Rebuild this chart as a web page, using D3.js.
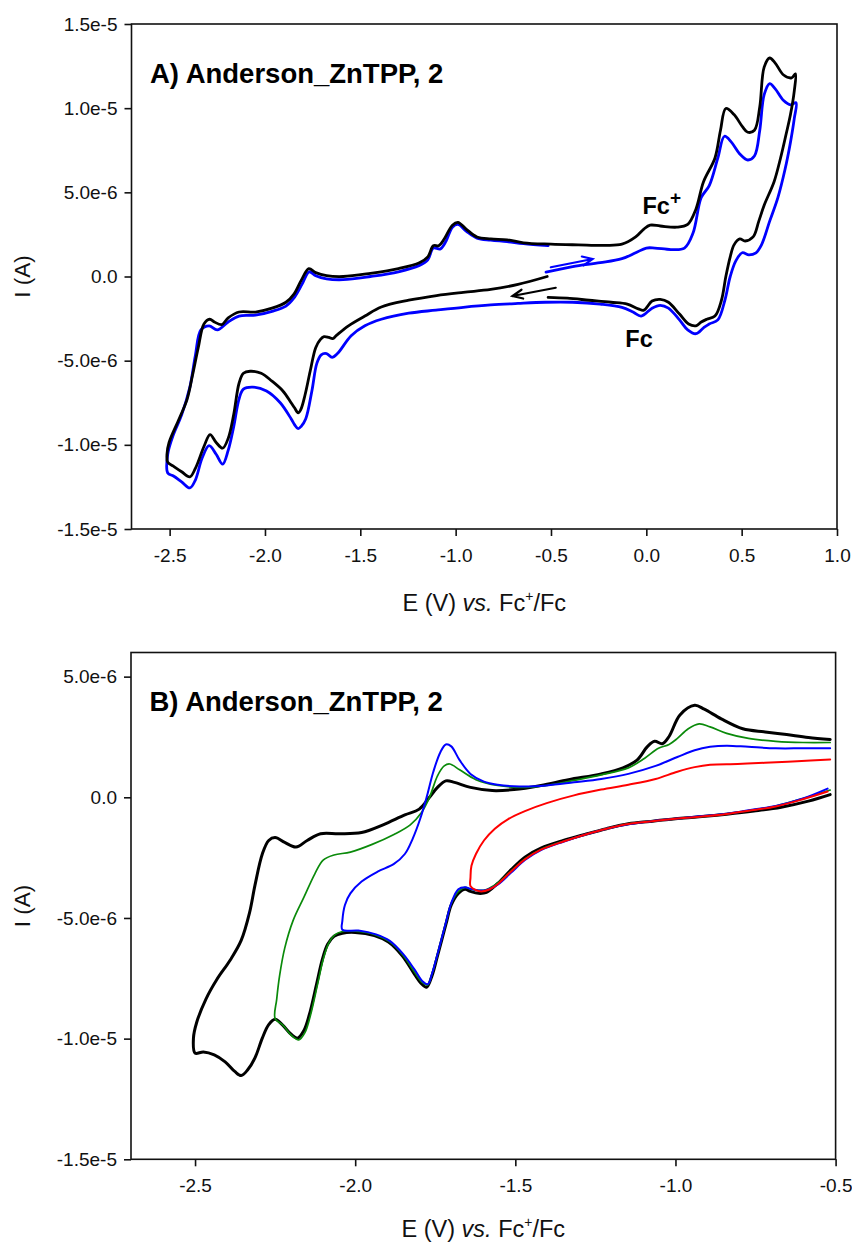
<!DOCTYPE html>
<html><head><meta charset="utf-8">
<script src="https://cdn.jsdelivr.net/npm/d3@7/dist/d3.min.js"></script>
<style>
body{margin:0;background:#fff;}
svg{display:block;font-family:"Liberation Sans",Arial,sans-serif;}
</style></head>
<body>
<svg id="chart" width="852" height="1244"></svg>
<script>
// ---------- DATA (E in V vs Fc+/Fc, I in microamps) ----------
const uA = 1e-6;

// Panel A ticks
const aTicksX = [-2.5,-2.0,-1.5,-1.0,-0.5,0.0,0.5,1.0];
const aTickLabelsX = ["-2.5","-2.0","-1.5","-1.0","-0.5","0.0","0.5","1.0"];
const aTicksY = [1.5e-5,1.0e-5,5e-6,0,-5e-6,-1e-5,-1.5e-5];
const aTickLabelsY = ["1.5e-5","1.0e-5","5.0e-6","0.0","-5.0e-6","-1.0e-5","-1.5e-5"];

// Panel A, black trace
const aBlack = [
[-0.52,0.0],[-0.673,-0.47],[-0.816,-0.77],[-0.96,-0.94],[-1.10,-1.13],[-1.246,-1.41],[-1.39,-1.81],
[-1.476,-2.35],[-1.562,-2.93],[-1.625,-3.5],[-1.645,-3.69],[-1.665,-3.62],[-1.69,-3.57],[-1.71,-3.75],[-1.734,-4.23],
[-1.763,-5.63],[-1.79,-7.04],[-1.812,-7.9],[-1.826,-8.1],[-1.845,-7.8],[-1.863,-7.5],[-1.906,-6.8],[-1.963,-6.22],
[-2.02,-5.75],[-2.078,-5.63],[-2.113,-5.75],[-2.136,-6.34],[-2.164,-8.2],[-2.193,-9.62],[-2.222,-10.2],
[-2.256,-9.86],[-2.288,-9.39],[-2.32,-10.1],[-2.365,-11.4],[-2.394,-11.9],[-2.437,-11.6],[-2.48,-11.27],
[-2.51,-11.03],[-2.514,-10.56],[-2.503,-9.86],[-2.45,-8.45],[-2.408,-7.28],[-2.38,-5.87],[-2.35,-4.23],
[-2.32,-2.82],[-2.29,-2.54],[-2.265,-2.70],[-2.227,-2.86],[-2.193,-2.46],[-2.136,-2.11],[-2.05,-2.11],
[-1.963,-1.88],[-1.89,-1.53],[-1.849,-1.06],[-1.81,-0.23],[-1.77,0.47],[-1.734,0.23],[-1.677,0.05],
[-1.59,0.0],[-1.447,0.19],[-1.30,0.47],[-1.19,0.82],[-1.146,1.17],[-1.117,1.83],[-1.089,1.83],[-1.06,2.23],
[-1.017,3.05],[-0.988,3.22],[-0.945,2.82],[-0.888,2.35],[-0.816,2.23],[-0.73,2.18],[-0.644,2.0],[-0.5,1.92],
[-0.357,1.88],[-0.214,1.85],[-0.128,1.92],[-0.056,2.35],[-0.013,2.82],[0.02,3.05],[0.073,3.0],[0.16,2.93],
[0.217,3.1],[0.26,4.0],[0.30,5.63],[0.36,7.04],[0.389,8.69],[0.417,9.98],[0.46,9.62],[0.503,8.92],
[0.532,8.57],[0.567,8.69],[0.595,10.09],[0.618,12.44],[0.647,12.98],[0.676,12.68],[0.72,11.97],[0.762,11.8],
[0.782,12.04],[0.776,11.03],[0.756,9.62],[0.733,8.45],[0.704,7.04],[0.67,5.63],[0.618,4.23],[0.59,3.29],
[0.56,2.35],[0.518,2.11],[0.49,2.23],[0.46,1.88],[0.44,1.17],[0.417,0.0],[0.394,-1.41],[0.36,-2.35],
[0.317,-2.54],[0.288,-2.70],[0.26,-2.93],[0.222,-2.82],[0.174,-2.23],[0.116,-1.53],[0.073,-1.36],
[0.03,-1.46],[-0.013,-2.0],[-0.042,-1.92],[-0.1,-1.64],[-0.185,-1.53],[-0.3,-1.41],[-0.415,-1.29],[-0.515,-1.24]
];

// Panel A, blue trace
const aBlue = [
[-0.526,0.26],[-0.386,0.59],[-0.242,0.82],[-0.128,1.06],[-0.056,1.41],[0.0,1.69],[0.045,1.69],[0.13,1.6],
[0.2,1.69],[0.245,2.58],[0.288,4.69],[0.33,5.4],[0.375,7.04],[0.41,8.33],[0.446,7.98],[0.49,7.28],
[0.532,6.92],[0.567,7.16],[0.595,8.69],[0.618,10.8],[0.647,11.46],[0.676,11.15],[0.72,10.45],[0.756,10.2],
[0.785,10.33],[0.776,9.39],[0.756,7.98],[0.727,6.34],[0.69,4.69],[0.647,3.29],[0.604,1.88],[0.575,1.41],
[0.538,1.29],[0.503,1.41],[0.47,0.94],[0.44,0.0],[0.412,-1.41],[0.375,-2.58],[0.33,-2.82],[0.30,-3.05],
[0.26,-3.40],[0.217,-3.17],[0.174,-2.58],[0.116,-1.88],[0.073,-1.71],[0.03,-1.88],[-0.027,-2.35],
[-0.07,-2.11],[-0.128,-1.83],[-0.242,-1.64],[-0.386,-1.53],[-0.53,-1.53],[-0.673,-1.6],[-0.816,-1.69],
[-0.96,-1.83],[-1.103,-2.0],[-1.246,-2.18],[-1.39,-2.54],[-1.476,-2.93],[-1.548,-3.52],[-1.62,-4.58],
[-1.648,-4.81],[-1.677,-4.58],[-1.705,-4.65],[-1.728,-5.16],[-1.754,-6.8],[-1.786,-8.45],[-1.81,-8.9],[-1.826,-9.04],
[-1.845,-8.8],[-1.863,-8.45],[-1.92,-7.5],[-1.992,-6.8],[-2.064,-6.57],[-2.113,-6.69],[-2.136,-7.28],[-2.164,-8.92],
[-2.193,-10.33],[-2.222,-11.15],[-2.256,-10.56],[-2.293,-10.05],[-2.33,-10.8],[-2.365,-12.09],[-2.394,-12.56],
[-2.437,-12.2],[-2.48,-11.85],[-2.51,-11.67],[-2.51,-10.56],[-2.48,-9.39],[-2.437,-8.22],[-2.394,-6.57],
[-2.365,-4.69],[-2.336,-3.17],[-2.293,-2.93],[-2.25,-3.17],[-2.193,-2.70],[-2.136,-2.35],[-2.05,-2.30],
[-1.963,-2.07],[-1.89,-1.76],[-1.849,-1.29],[-1.806,-0.47],[-1.768,0.28],[-1.734,0.05],[-1.677,-0.14],
[-1.59,-0.19],[-1.447,0.0],[-1.30,0.28],[-1.19,0.66],[-1.146,0.99],[-1.117,1.69],[-1.08,1.64],[-1.05,2.11],
[-1.017,2.93],[-0.988,3.10],[-0.945,2.7],[-0.888,2.28],[-0.816,2.16],[-0.73,2.07],[-0.644,1.95],[-0.515,1.83]
];

// Panel A scan-direction arrows [from, to]
const aArrowBlue = [[-0.501,0.55],[-0.282,1.04]];
const aArrowBlack = [[-0.475,-0.67],[-0.702,-1.16]];

// Panel B ticks
const bTicksX = [-2.5,-2.0,-1.5,-1.0,-0.5];
const bTickLabelsX = ["-2.5","-2.0","-1.5","-1.0","-0.5"];
const bTicksY = [5e-6,0,-5e-6,-1e-5,-1.5e-5];
const bTickLabelsY = ["5.0e-6","0.0","-5.0e-6","-1.0e-5","-1.5e-5"];

// Panel B, black (switch at -2.50 V)
const bBlack = [
[-0.517,0.11],[-0.585,-0.16],[-0.67,-0.41],[-0.755,-0.57],[-0.84,-0.70],[-0.926,-0.81],[-1.0,-0.89],
[-1.08,-1.0],[-1.147,-1.10],[-1.215,-1.30],[-1.283,-1.54],[-1.35,-1.79],[-1.42,-2.11],[-1.47,-2.48],
[-1.513,-3.0],[-1.555,-3.57],[-1.59,-3.94],[-1.615,-3.98],[-1.64,-3.9],[-1.657,-3.81],[-1.678,-3.98],
[-1.7,-4.46],[-1.717,-5.28],[-1.743,-6.57],[-1.76,-7.39],[-1.777,-7.87],[-1.794,-7.71],[-1.82,-7.22],
[-1.853,-6.57],[-1.896,-6.0],[-1.94,-5.73],[-2.0,-5.6],[-2.04,-5.63],[-2.066,-5.76],[-2.086,-6.09],
[-2.103,-6.74],[-2.12,-7.71],[-2.143,-9.0],[-2.16,-9.66],[-2.18,-9.98],[-2.2,-9.82],[-2.228,-9.42],
[-2.25,-9.2],[-2.27,-9.42],[-2.29,-9.98],[-2.313,-10.8],[-2.335,-11.28],[-2.356,-11.53],[-2.376,-11.36],
[-2.406,-10.96],[-2.44,-10.67],[-2.474,-10.55],[-2.5,-10.6],[-2.505,-9.98],[-2.495,-9.33],[-2.466,-8.36],
[-2.432,-7.55],[-2.39,-6.74],[-2.356,-5.93],[-2.33,-4.79],[-2.313,-3.65],[-2.29,-2.35],[-2.27,-1.79],
[-2.25,-1.67],[-2.22,-1.87],[-2.185,-2.06],[-2.15,-1.79],[-2.108,-1.51],[-2.05,-1.51],[-1.98,-1.46],
[-1.913,-1.14],[-1.845,-0.73],[-1.80,-0.49],[-1.768,0.0],[-1.743,0.41],[-1.717,0.68],[-1.69,0.62],
[-1.64,0.41],[-1.572,0.28],[-1.504,0.32],[-1.42,0.49],[-1.334,0.73],[-1.232,0.97],[-1.164,1.22],
[-1.12,1.54],[-1.087,2.11],[-1.065,2.32],[-1.041,2.22],[-1.02,2.52],[-0.986,3.41],[-0.94,3.81],
[-0.91,3.65],[-0.857,3.25],[-0.79,2.84],[-0.72,2.71],[-0.653,2.6],[-0.585,2.48],[-0.517,2.4]
];

// Panel B, green (switch at -2.25 V)
const bGreen = [
[-0.517,0.3],[-0.602,-0.05],[-0.687,-0.36],[-0.772,-0.55],[-0.84,-0.69],[-0.926,-0.8],[-1.0,-0.89],
[-1.08,-1.0],[-1.147,-1.10],[-1.215,-1.30],[-1.283,-1.55],[-1.35,-1.82],[-1.42,-2.16],[-1.47,-2.55],
[-1.513,-3.05],[-1.555,-3.55],[-1.59,-3.82],[-1.615,-3.86],[-1.64,-3.8],[-1.657,-3.73],[-1.678,-3.9],
[-1.7,-4.4],[-1.717,-5.2],[-1.743,-6.5],[-1.76,-7.3],[-1.774,-7.78],[-1.79,-7.68],[-1.817,-7.2],
[-1.85,-6.55],[-1.893,-5.98],[-1.937,-5.7],[-2.0,-5.55],[-2.04,-5.56],[-2.064,-5.7],[-2.083,-6.05],
[-2.1,-6.72],[-2.117,-7.72],[-2.14,-9.05],[-2.157,-9.75],[-2.176,-10.05],[-2.198,-9.88],[-2.225,-9.45],
[-2.25,-9.17],[-2.245,-8.36],[-2.236,-7.39],[-2.22,-6.25],[-2.194,-5.11],[-2.16,-4.14],[-2.126,-3.17],
[-2.1,-2.6],[-2.066,-2.39],[-2.015,-2.27],[-1.947,-1.95],[-1.879,-1.54],[-1.828,-1.14],[-1.794,-0.65],
[-1.768,0.0],[-1.743,0.89],[-1.722,1.30],[-1.705,1.38],[-1.674,1.14],[-1.623,0.73],[-1.555,0.49],
[-1.47,0.41],[-1.402,0.49],[-1.317,0.70],[-1.232,0.93],[-1.147,1.22],[-1.096,1.62],[-1.053,2.03],
[-1.02,2.19],[-0.994,2.44],[-0.96,2.84],[-0.926,3.04],[-0.892,2.92],[-0.84,2.65],[-0.772,2.44],
[-0.687,2.32],[-0.602,2.27],[-0.517,2.27]
];

// Panel B, blue (switch at -2.04 V)
const bBlue = [
[-0.525,0.36],[-0.602,-0.05],[-0.687,-0.36],[-0.772,-0.54],[-0.84,-0.68],[-0.926,-0.79],[-1.0,-0.89],
[-1.08,-1.0],[-1.147,-1.12],[-1.215,-1.30],[-1.283,-1.55],[-1.35,-1.84],[-1.42,-2.19],[-1.47,-2.6],
[-1.513,-3.12],[-1.555,-3.62],[-1.59,-3.84],[-1.615,-3.86],[-1.64,-3.79],[-1.657,-3.73],[-1.678,-3.81],
[-1.7,-4.38],[-1.717,-5.2],[-1.743,-6.5],[-1.76,-7.3],[-1.773,-7.74],[-1.79,-7.62],[-1.815,-7.13],
[-1.85,-6.5],[-1.892,-5.95],[-1.935,-5.68],[-1.99,-5.52],[-2.04,-5.49],[-2.04,-5.11],[-2.032,-4.46],
[-2.015,-3.98],[-1.98,-3.49],[-1.93,-3.08],[-1.879,-2.76],[-1.845,-2.35],[-1.82,-1.70],[-1.797,-0.89],
[-1.777,0.0],[-1.756,1.06],[-1.734,1.87],[-1.717,2.19],[-1.70,2.11],[-1.674,1.54],[-1.64,0.97],
[-1.598,0.65],[-1.555,0.52],[-1.487,0.45],[-1.402,0.49],[-1.317,0.62],[-1.232,0.76],[-1.147,0.97],
[-1.062,1.30],[-0.994,1.67],[-0.94,1.95],[-0.892,2.09],[-0.84,2.14],[-0.772,2.09],[-0.687,2.03],
[-0.602,2.03],[-0.517,2.03]
];

// Panel B, red (switch at -1.64 V)
const bRed = [
[-0.525,0.24],[-0.602,-0.08],[-0.687,-0.38],[-0.772,-0.56],[-0.84,-0.69],[-0.926,-0.81],[-1.0,-0.89],
[-1.08,-1.0],[-1.147,-1.11],[-1.215,-1.30],[-1.283,-1.55],[-1.35,-1.83],[-1.42,-2.17],[-1.47,-2.57],
[-1.513,-3.07],[-1.555,-3.6],[-1.58,-3.81],[-1.606,-3.9],[-1.623,-3.85],[-1.64,-3.68],[-1.64,-3.33],
[-1.637,-2.84],[-1.623,-2.35],[-1.598,-1.79],[-1.564,-1.30],[-1.521,-0.89],[-1.47,-0.57],[-1.402,-0.24],
[-1.317,0.08],[-1.232,0.32],[-1.147,0.52],[-1.062,0.76],[-0.994,1.06],[-0.94,1.25],[-0.892,1.35],
[-0.806,1.38],[-0.721,1.43],[-0.62,1.49],[-0.517,1.57]
];

// ---------- DRAW ----------
const svg = d3.select("#chart");
const FONT = '"Liberation Sans",Arial,sans-serif';

function panel(cfg){
  const x = d3.scaleLinear().domain(cfg.xDomain).range([cfg.left, cfg.right]);
  const y = d3.scaleLinear().domain(cfg.yDomain).range([cfg.bottom, cfg.top]);
  const g = svg.append("g");

  const line = d3.line()
    .x(d => x(d[0])).y(d => y(d[1]*uA))
    .curve(d3.curveCatmullRom.alpha(0.5));

  cfg.series.forEach(s => {
    g.append("path").datum(s.data)
      .attr("d", line).attr("fill","none")
      .attr("stroke", s.color).attr("stroke-width", s.width)
      .attr("stroke-linejoin","round").attr("stroke-linecap","round");
  });

  // frame
  g.append("rect")
    .attr("x", cfg.left).attr("y", cfg.top)
    .attr("width", cfg.right-cfg.left).attr("height", cfg.bottom-cfg.top)
    .attr("fill","none").attr("stroke","#111").attr("stroke-width",1.6);

  const xAxis = d3.axisBottom(x).tickValues(cfg.xTicks)
    .tickFormat((d,i)=>cfg.xLabels[i]).tickSize(7).tickPadding(9);
  const gx = g.append("g").attr("transform",`translate(0,${cfg.bottom})`).call(xAxis);
  const yAxis = d3.axisLeft(y).tickValues(cfg.yTicks)
    .tickFormat((d,i)=>cfg.yLabels[i]).tickSize(7).tickPadding(7);
  const gy = g.append("g").attr("transform",`translate(${cfg.left},0)`).call(yAxis);
  [gx,gy].forEach(a=>{
    a.select(".domain").remove();
    a.selectAll(".tick line").attr("stroke","#111").attr("stroke-width",1.6);
    a.selectAll(".tick text").attr("fill","#111").style("font-family",FONT).style("font-size","19px");
  });
  gx.selectAll(".tick text").attr("dy","0.9em");

  // axis titles
  const xt = g.append("text").attr("x",(cfg.left+cfg.right)/2).attr("y",cfg.bottom+cfg.xTitleOff)
    .attr("text-anchor","middle").style("font-family",FONT).style("font-size","23.5px").attr("fill","#111");
  xt.append("tspan").text("E (V) ");
  xt.append("tspan").style("font-style","italic").text("vs.");
  xt.append("tspan").text(" Fc");
  xt.append("tspan").attr("dy",-10).style("font-size","14px").text("+");
  xt.append("tspan").attr("dy",10).text("/Fc");

  g.append("text").attr("transform",`translate(30,${(cfg.top+cfg.bottom)/2}) rotate(-90)`)
    .attr("text-anchor","middle").style("font-family",FONT).style("font-size","22.5px").attr("fill","#111")
    .text("I (A)");

  // panel title
  g.append("text").attr("x",cfg.left+18.5).attr("y",cfg.top+58.5)
    .style("font-family",FONT).style("font-size","27.5px").style("font-weight","bold").attr("fill","#000")
    .text(cfg.title);

  return {g,x,y};
}

const A = panel({
  left:131.5, right:837, top:24, bottom:529, xTitleOff:82,
  xDomain:[-2.7,1.0], yDomain:[-1.5e-5,1.5e-5],
  xTicks:aTicksX, xLabels:aTickLabelsX, yTicks:aTicksY, yLabels:aTickLabelsY,
  title:"A) Anderson_ZnTPP, 2",
  series:[{data:aBlue,color:"#0000ff",width:2.8},{data:aBlack,color:"#000",width:2.8}]
});

// arrows in panel A
function arrow(p, from, to, color){
  const x0=p.x(from[0]), y0=p.y(from[1]*uA), x1=p.x(to[0]), y1=p.y(to[1]*uA);
  const ang=Math.atan2(y1-y0,x1-x0), L=11, w=0.42;
  const a1=[x1-L*Math.cos(ang-w), y1-L*Math.sin(ang-w)];
  const a2=[x1-L*Math.cos(ang+w), y1-L*Math.sin(ang+w)];
  p.g.append("path")
    .attr("d",`M${x0},${y0}L${x1},${y1}M${a1[0]},${a1[1]}L${x1},${y1}L${a2[0]},${a2[1]}`)
    .attr("fill","none").attr("stroke",color).attr("stroke-width",2.2).attr("stroke-linecap","round");
}
arrow(A, aArrowBlue[0], aArrowBlue[1], "#0000ff");
arrow(A, aArrowBlack[0], aArrowBlack[1], "#000");

// Fc labels
const fcp = A.g.append("text").attr("x",A.x(-0.02)).attr("y",A.y(3.7*uA))
  .style("font-family",FONT).style("font-size","23.5px").style("font-weight","bold");
fcp.append("tspan").text("Fc");
fcp.append("tspan").attr("dy",-10).style("font-size","19px").text("+");
A.g.append("text").attr("x",A.x(-0.11)).attr("y",A.y(-4.2*uA))
  .style("font-family",FONT).style("font-size","23.5px").style("font-weight","bold").text("Fc");

const B = panel({
  left:131, right:835.6, top:652.5, bottom:1159.3, xTitleOff:78,
  xDomain:[-2.7,-0.5], yDomain:[-1.5e-5,6e-6],
  xTicks:bTicksX, xLabels:bTickLabelsX, yTicks:bTicksY, yLabels:bTickLabelsY,
  title:"B) Anderson_ZnTPP, 2",
  series:[
    {data:bBlack,color:"#000",width:3},
    {data:bGreen,color:"#0a8a0a",width:1.7},
    {data:bBlue,color:"#0000ff",width:2},
    {data:bRed,color:"#ff0000",width:2}
  ]
});
</script>
</body></html>
